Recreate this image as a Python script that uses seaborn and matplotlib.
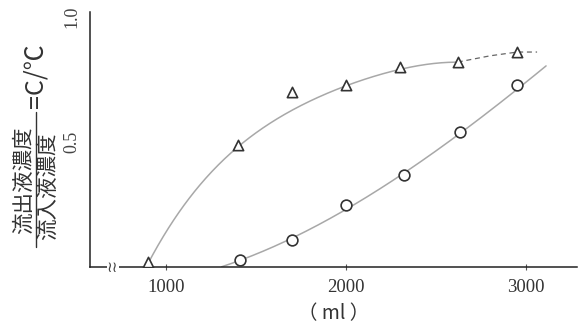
import numpy as np
import seaborn as sns
import matplotlib.pyplot as plt
from matplotlib.transforms import blended_transform_factory

tri_x = [900, 1400, 1700, 2000, 2300, 2620, 2950]
tri_y = [0.02, 0.49, 0.70, 0.73, 0.80, 0.82, 0.86]
circ_x = [1410, 1700, 2000, 2320, 2630, 2950]
circ_y = [0.028, 0.11, 0.25, 0.37, 0.54, 0.73]

# drawn curves
tri_curve_x = [900, 967, 1039, 1133, 1228, 1317, 1400, 1539, 1728, 1911, 2094, 2300, 2620]
tri_curve_y = [0.0, 0.108, 0.20, 0.28, 0.348, 0.416, 0.48, 0.566, 0.64, 0.70, 0.747, 0.79, 0.82]
tri_dash_x = [2620, 2800, 2950, 3060]
tri_dash_y = [0.82, 0.845, 0.86, 0.86]
circ_curve_x = [1310, 1410, 1700, 2000, 2320, 2630, 2950, 3110]
circ_curve_y = [0.0, 0.03, 0.11, 0.24, 0.37, 0.53, 0.72, 0.80]

xticks = [1000, 2000, 3000]
yticks = [0.5, 1.0]
yticklabels = ["0.5", "1.0"]

sns.set_style("ticks")
plt.rcParams['font.family'] = ['Noto Sans CJK JP', 'DejaVu Sans']

fig = plt.figure(figsize=(5.79, 3.25), dpi=100)
ax = fig.add_axes([0.155, 0.178, 0.842, 0.785])

line_col = "#a8a8a8"
mark_col = "#333333"

# smooth fit through the read-off curve points (x scaled for a stable fit)
tkx = (np.array(tri_curve_x) - 1700) / 1000
coef = np.polyfit(tkx, tri_curve_y, 4)
tx = np.linspace(tri_curve_x[0], tri_curve_x[-1], 300)
ty = np.polyval(coef, (tx - 1700) / 1000)
sns.lineplot(x=tx, y=ty, ax=ax, color=line_col, lw=1.1, sort=False)
sns.lineplot(x=tri_dash_x, y=tri_dash_y, ax=ax, color="#666666", lw=0.9,
             linestyle=(0, (4, 3)), sort=False)

ckx = (np.array(circ_curve_x) - 2200) / 1000
ccoef = np.polyfit(ckx, circ_curve_y, 3)
cx = np.linspace(circ_curve_x[0], circ_curve_x[-1], 300)
cy = np.polyval(ccoef, (cx - 2200) / 1000)
sns.lineplot(x=cx, y=cy, ax=ax, color=line_col, lw=1.1, sort=False)

sns.scatterplot(x=tri_x, y=tri_y, ax=ax, marker='^', s=55, facecolor='white',
                edgecolor=mark_col, linewidth=1.2, zorder=5)
sns.scatterplot(x=circ_x, y=circ_y, ax=ax, marker='o', s=60, facecolor='white',
                edgecolor=mark_col, linewidth=1.2, zorder=5)

ax.set_xlim(578, 3283)
ax.set_ylim(0, 1.02)
sns.despine(ax=ax)
for side in ['left', 'bottom']:
    ax.spines[side].set_linewidth(1.1)
    ax.spines[side].set_color('#222222')

ax.set_xticks(xticks)
ax.set_xticklabels([str(v) for v in xticks], family=['Liberation Serif'], fontsize=13.5,
                   color='#333333')
ax.tick_params(axis='x', direction='inout', length=5, width=0.8, pad=6, color='#555555')
ax.set_yticks(yticks)
ax.set_yticklabels(yticklabels, family=['Liberation Serif'], fontsize=13,
                   rotation=90, va='center', color='#444444')
ax.tick_params(axis='y', length=0, pad=7)

# break mark on the x axis
tr = blended_transform_factory(ax.transData, ax.transAxes)
ax.text(705, 0.0, "≀≀", transform=tr, ha='center', va='center', fontsize=11,
        color='#444444', family=['DejaVu Sans'],
        bbox=dict(facecolor='white', edgecolor='none', pad=0.2))

ax.set_xlabel("（ ml ）", fontsize=14, color='#333333', labelpad=5,
              family=['Noto Sans CJK JP'])

# y label as a fraction
fig.text(24 / 579, 1 - 180 / 325, "流出液濃度", rotation=90, ha='center', va='center',
         fontsize=15.5, color='#333333')
fig.text(48 / 579, 1 - 186 / 325, "流入液濃度", rotation=90, ha='center', va='center',
         fontsize=15.5, color='#333333')
fig.add_artist(plt.Line2D([36 / 579, 36 / 579], [1 - 247 / 325, 1 - 112 / 325],
                          color='#333333', lw=1.0))
fig.text(36 / 579, 1 - 76 / 325, "=C/℃", rotation=90, ha='center', va='center',
         fontsize=18, color='#333333')

fig.savefig("out.png", dpi=100)
